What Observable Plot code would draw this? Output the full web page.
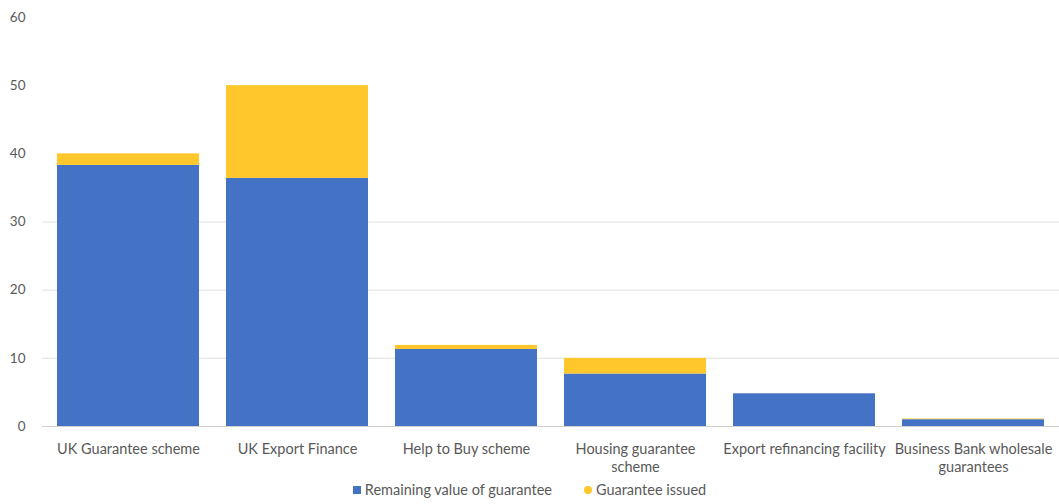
<!DOCTYPE html>
<html>
<head>
<meta charset="utf-8">
<script src="https://cdn.jsdelivr.net/npm/d3@7"></script>
<script src="https://cdn.jsdelivr.net/npm/@observablehq/plot@0.6"></script>
<style>
  html, body { margin: 0; padding: 0; background: #fff; }
  body { width: 1059px; height: 504px; overflow: hidden; font-family: Lato, "Open Sans", sans-serif; }
  #legend { display: flex; justify-content: center; gap: 32px; font-size: 14.5px; color: #595959; margin-top: 3px; padding-left: 0px; }
  #legend span.item { display: inline-flex; align-items: center; gap: 4px; }
  #legend i { display: inline-block; width: 8px; height: 8px; }
</style>
</head>
<body>
<div id="chart"></div>
<div id="legend"></div>
<script>
const categories = [
  "UK Guarantee scheme",
  "UK Export Finance",
  "Help to Buy scheme",
  "Housing guarantee scheme",
  "Export refinancing facility",
  "Business Bank wholesale guarantees"
];
const tickLabels = [
  "UK Guarantee scheme",
  "UK Export Finance",
  "Help to Buy scheme",
  "Housing guarantee\nscheme",
  "Export refinancing facility",
  "Business Bank wholesale\nguarantees"
];
const remainingValue = [38.3, 36.4, 11.3, 7.7, 4.8, 1.0];
const guaranteeIssued = [1.7, 13.6, 0.6, 2.3, 0.0, 0.1];
const seriesNames = ["Remaining value of guarantee", "Guarantee issued"];
const seriesColors = ["#4472C4", "#FFC72C"];
const yTicks = [0, 10, 20, 30, 40, 50, 60];
const gridTicks = [10, 20, 30];

const rows = [];
categories.forEach((c, i) => {
  rows.push({category: c, series: seriesNames[0], value: remainingValue[i]});
  rows.push({category: c, series: seriesNames[1], value: guaranteeIssued[i]});
});

const chart = Plot.plot({
  width: 1059,
  height: 478,
  marginTop: 17,
  marginLeft: 42,
  marginRight: 0,
  marginBottom: 52,
  style: {fontFamily: "Lato, 'Open Sans', sans-serif", fontSize: "14.5px", color: "#595959", background: "#fff"},
  x: {domain: categories, paddingInner: 0.16, paddingOuter: 0.08, label: null},
  y: {domain: [0, 60], ticks: yTicks, label: null},
  color: {domain: seriesNames, range: seriesColors},
  marks: [
    Plot.gridY(gridTicks, {stroke: "#d9d9d9", strokeOpacity: 0.8}),
    Plot.barY(rows, Plot.stackY({x: "category", y: "value", fill: "series", order: seriesNames})),
    Plot.ruleY([0], {stroke: "#d0d0d0", strokeWidth: 1.2}),
    Plot.axisY({ticks: yTicks, tickSize: 0, tickPadding: 17, fontSize: 13.5, fill: "#595959"}),
    Plot.axisX({tickSize: 0, tickPadding: 15, lineWidth: Infinity, lineHeight: 1.25, fontSize: 14.5, fill: "#595959",
      tickFormat: d => tickLabels[categories.indexOf(d)]})
  ]
});
document.getElementById("chart").appendChild(chart);

const legend = document.getElementById("legend");
seriesNames.forEach((n, i) => {
  const s = document.createElement("span");
  s.className = "item";
  const sw = document.createElement("i");
  sw.style.background = seriesColors[i];
  if (i === 1) sw.style.borderRadius = "50%";
  s.appendChild(sw);
  s.appendChild(document.createTextNode(n));
  legend.appendChild(s);
});
</script>
</body>
</html>
